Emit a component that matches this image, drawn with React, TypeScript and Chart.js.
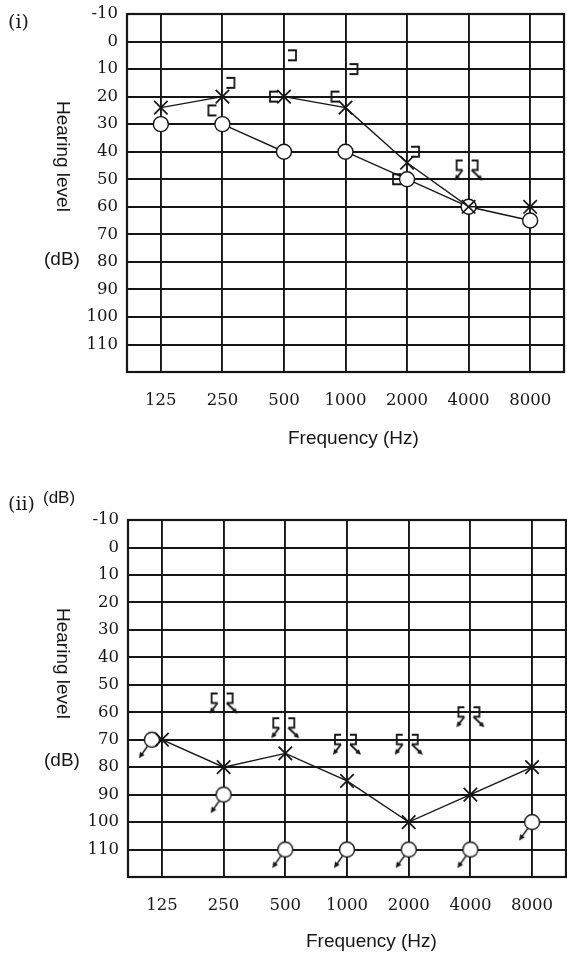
import React, { useEffect, useRef } from 'react';
import { Chart, registerables } from 'chart.js';

Chart.register(...registerables);

// ---------- data ----------
const FREQ_LABELS = ['125', '250', '500', '1000', '2000', '4000', '8000'];
const Y_GRID = [-10, 0, 10, 20, 30, 40, 50, 60, 70, 80, 90, 100, 110, 120];
const Y_LABELS = ['-10', '0', '10', '20', '30', '40', '50', '60', '70', '80', '90', '100', '110', ''];

// audiogram (i)
const I_LEFT_AIR = [24, 20, 20, 24, 44, 60, 60]; // X
const I_RIGHT_AIR = [30, 30, 40, 40, 50, 60, 65]; // O
const I_RIGHT_BONE = [null, 25, 20, 20, 50, null, null]; // [
const I_LEFT_BONE = [null, 15, 5, 10, 40, null, null]; // ]
const I_RIGHT_BONE_NR = [null, null, null, null, null, 45, null]; // [ no response
const I_LEFT_BONE_NR = [null, null, null, null, null, 45, null]; // ] no response

// audiogram (ii)
const II_LEFT_AIR = [70, 80, 75, 85, 100, 90, 80]; // X
const II_RIGHT_AIR_NR = [70, 90, 110, 110, 110, 110, 100]; // O no response
const II_RIGHT_BONE_NR = [null, 55, 64, 70, 70, 60, null]; // [ no response
const II_LEFT_BONE_NR = [null, 55, 64, 70, 70, 60, null]; // ] no response

// ---------- helpers ----------
const INK = '#161616';

function toPoints(arr: (number | null)[]) {
  return arr
    .map((v, i) => (v == null ? null : { x: i, y: v }))
    .filter((p) => p !== null) as { x: number; y: number }[];
}

function glyph(draw: (ctx: CanvasRenderingContext2D) => void, size = 56) {
  const c = document.createElement('canvas');
  c.width = size;
  c.height = size;
  const ctx = c.getContext('2d') as CanvasRenderingContext2D;
  ctx.translate(size / 2, size / 2);
  ctx.strokeStyle = INK;
  ctx.fillStyle = INK;
  ctx.lineWidth = 1.8;
  ctx.lineJoin = 'miter';
  draw(ctx);
  return c;
}

function arrow(ctx: CanvasRenderingContext2D, x1: number, y1: number, x2: number, y2: number, head = 6) {
  const a = Math.atan2(y2 - y1, x2 - x1);
  ctx.beginPath();
  ctx.moveTo(x1, y1);
  ctx.lineTo(x2 - Math.cos(a) * head * 0.6, y2 - Math.sin(a) * head * 0.6);
  ctx.stroke();
  ctx.beginPath();
  ctx.moveTo(x2, y2);
  ctx.lineTo(x2 - head * Math.cos(a - 0.45), y2 - head * Math.sin(a - 0.45));
  ctx.lineTo(x2 - head * Math.cos(a + 0.45), y2 - head * Math.sin(a + 0.45));
  ctx.closePath();
  ctx.fill();
}

function circleNRGlyph(dx: number) {
  return glyph((ctx) => {
    ctx.translate(dx, 0);
    ctx.lineWidth = 1.4;
    ctx.beginPath();
    ctx.arc(0, 0, 7.5, 0, Math.PI * 2);
    ctx.fillStyle = '#fff';
    ctx.fill();
    ctx.stroke();
    ctx.fillStyle = INK;
    arrow(ctx, -4.5, 6.5, -13, 18.5, 6.5);
  });
}

function makeGlyphs() {
  const leftBracket = glyph((ctx) => {
    ctx.beginPath();
    ctx.moveTo(-6, -5);
    ctx.lineTo(-14, -5);
    ctx.lineTo(-14, 5);
    ctx.lineTo(-6, 5);
    ctx.stroke();
  });
  const rightBracket = glyph((ctx) => {
    ctx.beginPath();
    ctx.moveTo(4, -5);
    ctx.lineTo(12, -5);
    ctx.lineTo(12, 5);
    ctx.lineTo(4, 5);
    ctx.stroke();
  });
  const leftBracketNR = glyph((ctx) => {
    ctx.beginPath();
    ctx.moveTo(-6, -5);
    ctx.lineTo(-12, -5);
    ctx.lineTo(-12, 4.5);
    ctx.lineTo(-6, 4.5);
    ctx.stroke();
    arrow(ctx, -6, 4.5, -14, 15);
  });
  const rightBracketNR = glyph((ctx) => {
    ctx.beginPath();
    ctx.moveTo(3, -5);
    ctx.lineTo(9, -5);
    ctx.lineTo(9, 4.5);
    ctx.lineTo(3, 4.5);
    ctx.stroke();
    arrow(ctx, 3, 4.5, 14, 15);
  });
  return {
    leftBracket,
    rightBracket,
    leftBracketNR,
    rightBracketNR,
    circleNR: circleNRGlyph(0),
    circleNRAside: circleNRGlyph(-10),
  };
}

const framePlugin = {
  id: 'frame',
  beforeDatasetsDraw(chart: any) {
    const { ctx, chartArea } = chart;
    ctx.save();
    ctx.strokeStyle = INK;
    ctx.lineWidth = 2.2;
    ctx.strokeRect(chartArea.left, chartArea.top, chartArea.right - chartArea.left, chartArea.bottom - chartArea.top);
    ctx.restore();
  },
};

function makeConfig(datasets: any[], top: number, right: number, yWidth: number, xHeight: number) {
  const tickFont = { family: '"DejaVu Serif", serif', size: 16.5 };
  return {
    type: 'line' as const,
    data: { datasets },
    options: {
      animation: false,
      responsive: false,
      maintainAspectRatio: false,
      layout: { autoPadding: false, padding: { top, right, left: 0, bottom: 0 } },
      plugins: { legend: { display: false }, tooltip: { enabled: false } },
      scales: {
        x: {
          type: 'linear',
          min: -0.55,
          max: 6.55,
          afterBuildTicks: (s: any) => {
            s.ticks = FREQ_LABELS.map((_, i) => ({ value: i }));
          },
          afterFit: (s: any) => {
            s.height = xHeight;
            s.paddingLeft = 0;
            s.paddingRight = 0;
          },
          ticks: {
            callback: (v: any) => FREQ_LABELS[v] ?? '',
            font: tickFont,
            color: INK,
            padding: 19,
            autoSkip: false,
            maxRotation: 0,
          },
          grid: { color: INK, lineWidth: 1.9, drawTicks: false },
          border: { display: false },
        },
        y: {
          type: 'linear',
          reverse: true,
          min: -10,
          max: 120,
          afterBuildTicks: (s: any) => {
            s.ticks = Y_GRID.map((v) => ({ value: v }));
          },
          afterFit: (s: any) => {
            s.width = yWidth;
            s.paddingTop = 0;
            s.paddingBottom = 0;
          },
          ticks: {
            callback: (_v: any, i: number) => Y_LABELS[i],
            font: tickFont,
            color: INK,
            padding: 9,
            autoSkip: false,
          },
          grid: { color: INK, lineWidth: 1.9, drawTicks: false },
          border: { display: false },
        },
      },
    },
    plugins: [framePlugin],
  };
}

const labelSans: React.CSSProperties = {
  position: 'absolute',
  fontFamily: '"Liberation Sans", Arial, sans-serif',
  fontSize: 19,
  lineHeight: '22px',
  color: INK,
  whiteSpace: 'nowrap',
};
const labelSerif: React.CSSProperties = {
  position: 'absolute',
  fontFamily: '"DejaVu Serif", serif',
  fontSize: 19,
  lineHeight: '22px',
  color: INK,
  whiteSpace: 'nowrap',
};

export default function App() {
  const ref1 = useRef<HTMLCanvasElement>(null);
  const ref2 = useRef<HTMLCanvasElement>(null);

  useEffect(() => {
    const g = makeGlyphs();
    const lineDs = (data: any[], pointStyle: any, radius: number, showLine: boolean, fill = INK) => ({
      data,
      showLine,
      borderColor: INK,
      borderWidth: 1.4,
      pointStyle,
      pointRadius: radius,
      pointBorderWidth: pointStyle === 'crossRot' ? 1.7 : 1.4,
      pointBorderColor: INK,
      pointBackgroundColor: fill,
      pointHoverRadius: radius,
      tension: 0,
      clip: false,
    });

    const ds1 = [
      lineDs(toPoints(I_LEFT_AIR), 'crossRot', 9.5, true),
      lineDs(toPoints(I_RIGHT_AIR), 'circle', 7.5, true, '#fff'),
      lineDs(toPoints(I_RIGHT_BONE), g.leftBracket, 5, false),
      lineDs(toPoints(I_LEFT_BONE), g.rightBracket, 5, false),
      lineDs(toPoints(I_RIGHT_BONE_NR), g.leftBracketNR, 5, false),
      lineDs(toPoints(I_LEFT_BONE_NR), g.rightBracketNR, 5, false),
    ];

    // an O that shares its spot with an X is drawn beside it
    const oStyle = (ctx: any) => {
      const i = ctx.raw ? ctx.raw.x : -1;
      return i >= 0 && II_LEFT_AIR[i] === II_RIGHT_AIR_NR[i] ? g.circleNRAside : g.circleNR;
    };
    const ds2 = [
      lineDs(toPoints(II_LEFT_AIR), 'crossRot', 9.5, true),
      lineDs(toPoints(II_RIGHT_AIR_NR), oStyle, 5, false),
      lineDs(toPoints(II_RIGHT_BONE_NR), g.leftBracketNR, 5, false),
      lineDs(toPoints(II_LEFT_BONE_NR), g.rightBracketNR, 5, false),
    ];

    const c1 = new Chart(ref1.current as HTMLCanvasElement, makeConfig(ds1, 14, 3, 127, 98) as any);
    const c2 = new Chart(ref2.current as HTMLCanvasElement, makeConfig(ds2, 50, 1, 128, 78) as any);
    return () => {
      c1.destroy();
      c2.destroy();
    };
  }, []);

  return (
    <div style={{ position: 'absolute', left: 0, top: 0, width: 567, height: 955, background: '#fff', overflow: 'hidden' }}>
      <canvas ref={ref1} width={567} height={470} style={{ position: 'absolute', left: 0, top: 0, width: 567, height: 470 }} />
      <canvas ref={ref2} width={567} height={485} style={{ position: 'absolute', left: 0, top: 470, width: 567, height: 485 }} />

      <div style={{ ...labelSerif, left: 8, top: 10 }}>(i)</div>
      <div style={{ ...labelSans, left: 52, top: 101, writingMode: 'vertical-rl' }}>Hearing level</div>
      <div style={{ ...labelSans, left: 44, top: 248 }}>(dB)</div>
      <div style={{ ...labelSans, left: 288, top: 427 }}>Frequency (Hz)</div>

      <div style={{ ...labelSerif, left: 8, top: 492 }}>(ii)</div>
      <div style={{ ...labelSans, left: 43, top: 487, fontSize: 17 }}>(dB)</div>
      <div style={{ ...labelSans, left: 52, top: 608, writingMode: 'vertical-rl' }}>Hearing level</div>
      <div style={{ ...labelSans, left: 44, top: 749 }}>(dB)</div>
      <div style={{ ...labelSans, left: 306, top: 930 }}>Frequency (Hz)</div>
    </div>
  );
}
